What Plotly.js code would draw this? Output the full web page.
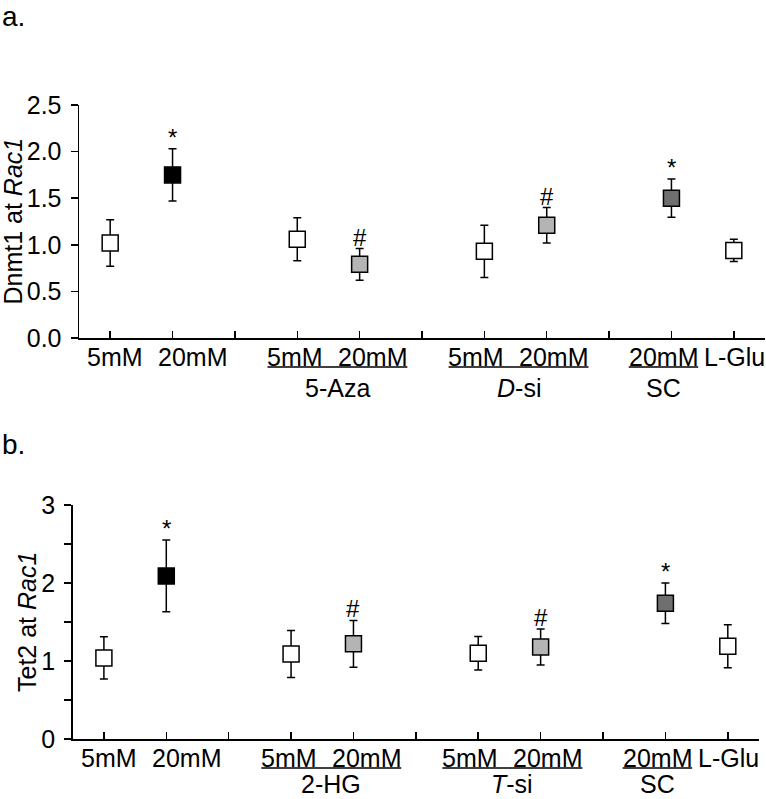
<!DOCTYPE html>
<html><head><meta charset="utf-8">
<script src="https://cdn.plot.ly/plotly-3.0.1.min.js"></script>
<style>html,body{margin:0;padding:0;background:#fff}</style>
</head><body><div id="chart" style="width:766px;height:799px"></div>
<script>
// ---- data ----
const tickLabels = ['5mM','20mM','','5mM','20mM','','5mM','20mM','','20mM','L-Glu'];
const dnmt1    = [1.02, 1.75, null, 1.06, 0.79, null, 0.93, 1.21, null, 1.50, 0.94];
const dnmt1Err = [0.25, 0.28, null, 0.23, 0.17, null, 0.28, 0.19, null, 0.205, 0.12];
const dnmt1Sig = ['', '*', '', '', '#', '', '', '#', '', '*', ''];
const tet2     = [1.04, 2.09, null, 1.09, 1.22, null, 1.10, 1.18, null, 1.74, 1.19];
const tet2Err  = [0.27, 0.46, null, 0.30, 0.30, null, 0.215, 0.23, null, 0.26, 0.275];
const tet2Sig  = ['', '*', '', '', '#', '', '', '#', '', '*', ''];
const fillKind = ['white','black',null,'white','light',null,'white','light',null,'dark','white'];
const groupsA = [{label:'5-Aza', from:3, to:4}, {label:'<i>D</i>-si', from:6, to:7}, {label:'SC', from:9, to:9}];
const groupsB = [{label:'2-HG', from:3, to:4}, {label:'<i>T</i>-si', from:6, to:7}, {label:'SC', from:9, to:9}];
const yTitleA = 'Dnmt1 at <i>Rac1</i>';
const yTitleB = 'Tet2 at <i>Rac1</i>';

// ---- styles ----
const FONT = 'Liberation Sans, Arial, sans-serif';
const FS = 25;
const fillColors = {white:'#ffffff', black:'#000000', light:'#b4b4b4', dark:'#6f6f6f'};
const labelShift = [5, 20, 0, -2, 13, 0, -8, 7, 0, -8, 1];
const W = 766, H = 799;
const xs = tickLabels.map((_, i) => i);
const colors = fillKind.map(k => k ? fillColors[k] : '#fff');

const ctx = document.createElement('canvas').getContext('2d');
ctx.font = FS + 'px "Liberation Sans"';
const tw = s => ctx.measureText(s).width;

const panels = [
  {vals: dnmt1, err: dnmt1Err, sig: dnmt1Sig, groups: groupsA, title: yTitleA,
   xa: 'x', ya: 'y', xdom: [79/W, 765/W], ydom: [1-338/H, 1-105/H], titleX: 13, bottomFit: false},
  {vals: tet2, err: tet2Err, sig: tet2Sig, groups: groupsB, title: yTitleB,
   xa: 'x2', ya: 'y2', xdom: [72.7/W, 759/W], ydom: [1-739/H, 1-505/H], titleX: 27, bottomFit: true}
];

const traces = [], annotations = [], shapes = [];
panels.forEach(p => {
  traces.push({
    type: 'scatter', mode: 'markers', x: xs, y: p.vals, xaxis: p.xa, yaxis: p.ya,
    marker: {symbol: 'square', size: 16, color: colors, line: {color: '#000', width: 1.5}},
    error_y: {type: 'data', array: p.err, visible: true, color: '#000', thickness: 1.5, width: 4},
    showlegend: false, hoverinfo: 'skip'
  });
  const yd = p.ya + ' domain';
  const ppu = (p.xdom[1] - p.xdom[0]) * W / 11;
  tickLabels.forEach((t, i) => {
    if (!t) return;
    annotations.push({text: t, x: i, xref: p.xa, y: 0, yref: yd, xanchor: 'center', yanchor: 'top',
      xshift: labelShift[i], yshift: -4, borderpad: 0, showarrow: false,
      font: {family: FONT, size: FS, color: '#000'}});
  });
  p.groups.forEach(g => {
    const x0 = g.from + (labelShift[g.from] - tw(tickLabels[g.from]) / 2) / ppu;
    const x1 = g.to + (labelShift[g.to] + tw(tickLabels[g.to]) / 2) / ppu;
    shapes.push({type: 'line', xref: p.xa, yref: yd, ysizemode: 'pixel', yanchor: 0,
      x0: x0, x1: x1, y0: -29, y1: -29, line: {color: '#000', width: 1.4}});
    const ann = {text: g.label, x: (x0 + x1) / 2, xref: p.xa, showarrow: false, borderpad: 0,
      xanchor: 'center', font: {family: FONT, size: FS, color: '#000'}};
    if (p.bottomFit) {
      Object.assign(ann, {y: 0, yref: 'paper', yanchor: 'bottom', yshift: 0});
    } else {
      Object.assign(ann, {y: 0, yref: yd, yanchor: 'top', yshift: -35});
    }
    annotations.push(ann);
  });
  p.sig.forEach((s, i) => {
    if (!s) return;
    annotations.push({text: s, x: i, xref: p.xa, y: p.vals[i] + p.err[i], yref: p.ya,
      xanchor: 'center', yanchor: 'bottom', yshift: -4, showarrow: false,
      font: {family: FONT, size: 24, color: '#000'}});
  });
  annotations.push({text: p.title, textangle: -90, x: p.titleX / W, xref: 'paper',
    y: (p.ydom[0] + p.ydom[1]) / 2, yref: 'paper', xanchor: 'center', yanchor: 'middle',
    showarrow: false, font: {family: FONT, size: FS, color: '#000'}});
});

annotations.push({text: 'a.', x: 1/W, xref: 'paper', y: 1, yref: 'paper', xanchor: 'left', yanchor: 'top',
  borderpad: 0, showarrow: false, font: {family: FONT, size: 28, color: '#000'}});
annotations.push({text: 'b.', x: 1/W, xref: 'paper', y: 1 - 428/H, yref: 'paper', xanchor: 'left', yanchor: 'top',
  borderpad: 0, showarrow: false, font: {family: FONT, size: 28, color: '#000'}});

const xaxisBase = {range: [-0.5, 10.5], tickvals: xs, showticklabels: false, ticks: 'inside', ticklen: 7,
  tickwidth: 1.5, tickcolor: '#000', showline: true, linecolor: '#000', linewidth: 1.5,
  showgrid: false, zeroline: false, fixedrange: true};
const yaxisBase = {ticks: 'outside', ticklen: 7, tickwidth: 1.5, tickcolor: '#000', showline: true,
  linecolor: '#000', linewidth: 1.5, showgrid: false, zeroline: false, ticklabelstandoff: 4,
  tickfont: {family: FONT, size: FS, color: '#000'}, fixedrange: true};

const layout = {
  width: W, height: H, margin: {l: 0, r: 0, t: 0, b: 0}, paper_bgcolor: '#fff', plot_bgcolor: 'rgba(0,0,0,0)',
  font: {family: FONT, size: FS, color: '#000'}, showlegend: false,
  xaxis: Object.assign({}, xaxisBase, {domain: panels[0].xdom, anchor: 'y'}),
  yaxis: Object.assign({}, yaxisBase, {domain: panels[0].ydom, anchor: 'x', range: [0, 2.5],
    tickvals: [0, 0.5, 1, 1.5, 2, 2.5], ticktext: ['0.0','0.5','1.0','1.5','2.0','2.5']}),
  xaxis2: Object.assign({}, xaxisBase, {domain: panels[1].xdom, anchor: 'y2'}),
  yaxis2: Object.assign({}, yaxisBase, {domain: panels[1].ydom, anchor: 'x2', range: [0, 3],
    tickvals: [0, 0.5, 1, 1.5, 2, 2.5, 3], ticktext: ['0','','1','','2','','3']}),
  annotations: annotations, shapes: shapes
};

Plotly.newPlot('chart', traces, layout, {staticPlot: true, displayModeBar: false});
</script></body></html>
